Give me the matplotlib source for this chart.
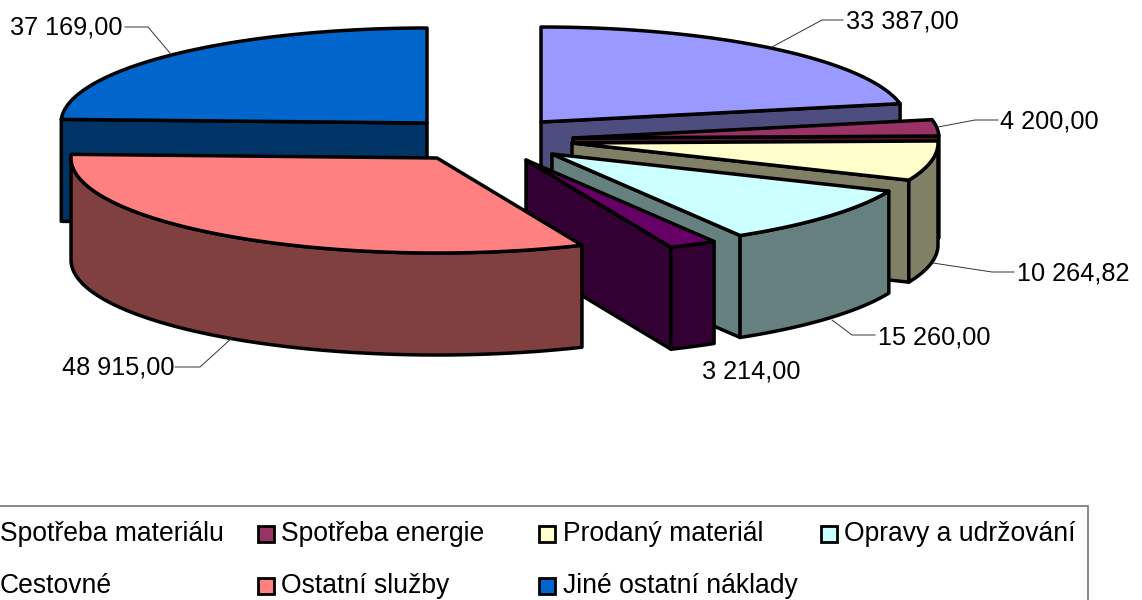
import numpy as np
import matplotlib
matplotlib.use("Agg")
import matplotlib.pyplot as plt
from matplotlib.patches import Polygon, Rectangle

plt.rcParams['font.family'] = ['Liberation Sans', 'DejaVu Sans']

# --- data ---
categories = ["Spotřeba materiálu", "Spotřeba energie", "Prodaný materiál", "Opravy a udržování",
              "Cestovné", "Ostatní služby", "Jiné ostatní náklady"]
values = [33387.00, 4200.00, 10264.82, 15260.00, 3214.00, 48915.00, 37169.00]
value_labels = ["33 387,00", "4 200,00", "10 264,82", "15 260,00", "3 214,00", "48 915,00", "37 169,00"]

# --- style / layout (pixel space of the figure) ---
top_colors = ["#9999FF", "#993366", "#FFFFCC", "#CCFFFF", "#660066", "#FF8080", "#0066CC"]
side_colors = ["#4D4D80", "#4D1A33", "#808066", "#668080", "#330033", "#804040", "#003366"]
apex_x = [541, 573, 572, 552, 526, 437, 427]
apex_y = [122, 138, 143, 154, 160, 158, 123]
RX, RY, DEPTH = 366, 95, 102
draw_order = [6, 0, 1, 2, 3, 4, 5]
EDGE = 2.5

label_pos = [(846, 22), (1000, 121), (1017, 273), (878, 337), (702, 371), (62, 368), (10, 28)]
leaders = [[(772, 47), (822, 20), (843, 20)],
           [(938, 127), (975, 120), (998, 120)],
           [(933, 263), (992, 272), (1014, 272)],
           [(832, 320), (852, 335), (875, 335)],
           None,
           [(232, 338), (200, 367), (175, 367)],
           [(170, 53), (148, 27), (125, 27)]]

legend_text_x = [0, 281, 563, 844]
legend_swatch_x = [None, 258, 539, 821]
legend_row_y = [534, 586]

W, H = 1142, 600
fig = plt.figure(figsize=(W / 100, H / 100), dpi=100, facecolor="white")
ax = fig.add_axes([0, 0, 1, 1])
ax.set_xlim(0, W)
ax.set_ylim(H, 0)
ax.axis("off")

fractions = np.array(values) / np.sum(values)
ends = np.cumsum(fractions) * 360.0
starts = ends - fractions * 360.0


def rim(cx, cy, a0, a1, dy=0.0):
    t = np.radians(np.linspace(a0, a1, max(int(abs(a1 - a0) * 2), 2)))
    return np.column_stack([cx + RX * np.sin(t), cy - RY * np.cos(t) + dy])


def face(points, color, z):
    ax.add_patch(Polygon(points, closed=True, facecolor=color, edgecolor="black",
                         linewidth=EDGE, joinstyle="round", zorder=z))


z = 1
for i in draw_order:
    cx, cy, a0, a1 = apex_x[i], apex_y[i], starts[i], ends[i]
    apex = np.array([[cx, cy]])
    apex_low = np.array([[cx, cy + DEPTH]])
    # radial walls that face the viewer
    if a1 < 180:
        e = rim(cx, cy, a1, a1)[:1]
        face(np.vstack([apex, e, e + [0, DEPTH], apex_low]), side_colors[i], z); z += 1
    if a0 > 180:
        s = rim(cx, cy, a0, a0)[:1]
        face(np.vstack([apex, s, s + [0, DEPTH], apex_low]), side_colors[i], z); z += 1
    # curved wall (front half only)
    f0, f1 = max(a0, 90), min(a1, 270)
    if f1 > f0:
        arc = rim(cx, cy, f0, f1)
        face(np.vstack([arc, arc[::-1] + [0, DEPTH]]), side_colors[i], z); z += 1
    # top
    face(np.vstack([apex, rim(cx, cy, a0, a1)]), top_colors[i], z); z += 1

for txt, (x, y), lead in zip(value_labels, label_pos, leaders):
    ax.text(x, y, txt, fontsize=18.2, ha="left", va="center", color="black", zorder=200)
    if lead:
        xs, ys = zip(*lead)
        ax.plot(xs, ys, color="#333333", lw=0.7, zorder=150)

# legend
ax.plot([0, 1088, 1088], [505.5, 505.5, H], color="#808080", lw=1.3, zorder=150)
per_row = 4
for i, name in enumerate(categories):
    r, c = divmod(i, per_row)
    y = legend_row_y[r]
    ax.text(legend_text_x[c], y, name, fontsize=19.1, ha="left", va="center", zorder=200)
    if legend_swatch_x[c] is not None:
        ax.add_patch(Rectangle((legend_swatch_x[c], y - 8.5), 16, 16, facecolor=top_colors[i],
                               edgecolor="black", linewidth=2, zorder=200))

fig.savefig("out.png", dpi=100, facecolor="white")
